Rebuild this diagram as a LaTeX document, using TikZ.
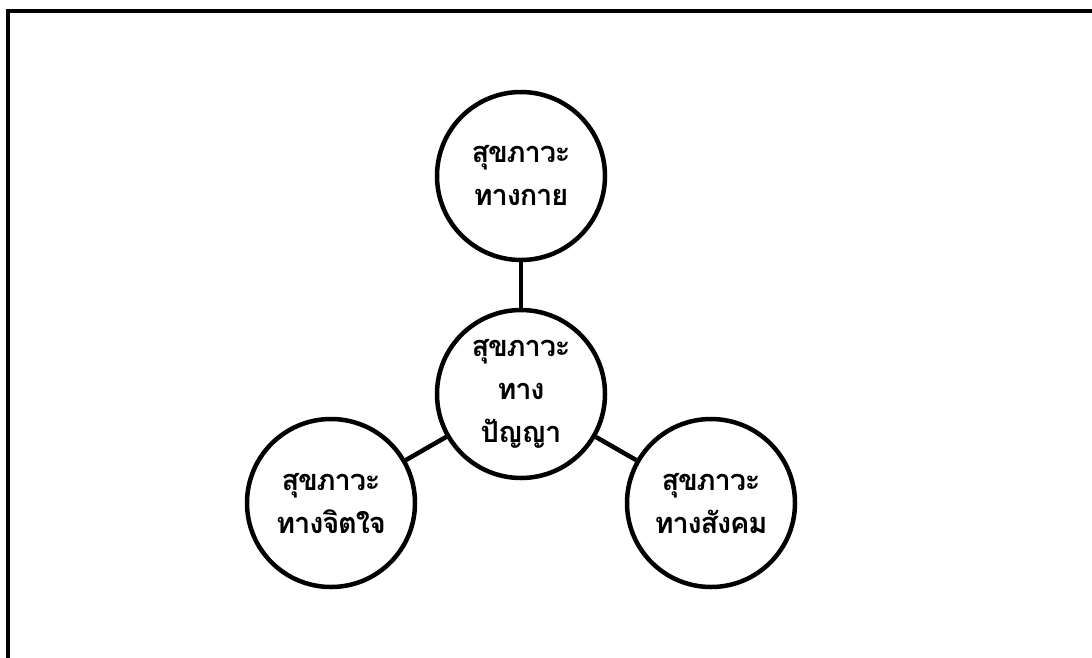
\documentclass[tikz,border=0pt]{standalone}
\usepackage{fontspec}
\newfontfamily\thaifont[Script=Thai,LetterSpace=-4]{Loma}
\begin{document}
\begin{tikzpicture}[x=1pt,y=-1pt,
  bubble/.style={circle,draw=black,line width=4.5pt,fill=white,minimum size=168pt,inner sep=0pt,
    align=center,font=\thaifont\bfseries\fontsize{29}{43}\selectfont},
  link/.style={line width=4.5pt,draw=black}]
\useasboundingbox (0,0) rectangle (1092,657);
\draw[line width=4pt] (8,670) -- (8,10.5) -- (1100,10.5);
\node[bubble] (top) at (521,176) {สุขภาวะ\\ทางกาย};
\node[bubble] (mid) at (521,394) {สุขภาวะ\\ทาง\\ปัญญา};
\node[bubble] (left) at (331,503) {สุขภาวะ\\ทางจิตใจ};
\node[bubble] (right) at (711,503) {สุขภาวะ\\ทางสังคม};
\draw[link] (top) -- (mid);
\draw[link] (mid) -- (left);
\draw[link] (mid) -- (right);
\end{tikzpicture}
\end{document}
